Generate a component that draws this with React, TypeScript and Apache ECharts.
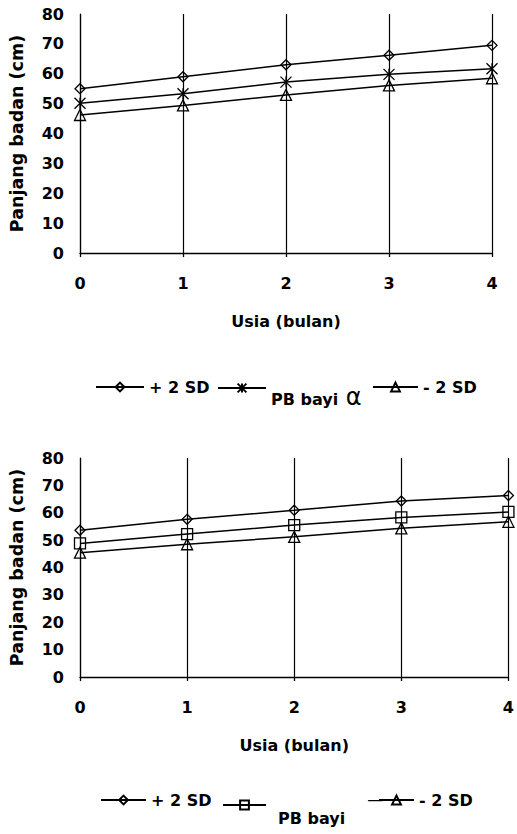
import React, { useEffect, useRef } from "react";
import * as echarts from "echarts";

const ages = [0, 1, 2, 3, 4];
const yTicks = [0, 10, 20, 30, 40, 50, 60, 70, 80];

const chart1Plus2SD = [55.0, 59.0, 63.0, 66.2, 69.5];
const chart1PBBayi = [50.1, 53.3, 57.2, 59.8, 61.7];
const chart1Minus2SD = [46.2, 49.4, 52.9, 56.1, 58.5];

const chart2Plus2SD = [53.6, 57.6, 60.9, 64.3, 66.3];
const chart2PBBayi = [48.8, 52.2, 55.5, 58.3, 60.3];
const chart2Minus2SD = [45.4, 48.5, 51.2, 54.3, 56.7];

const FONT = "DejaVu Sans";
const ASTERISK = "path://M0,0L10,12M10,0L0,12M5,0L5,12";

function pairs(vals: number[]) {
  return ages.map((a, i) => [a, vals[i]]);
}

function makeSeries(name: string, vals: number[], symbol: string, size: number) {
  return {
    type: "line",
    name,
    data: pairs(vals),
    symbol,
    symbolSize: size,
    showSymbol: true,
    clip: false,
    itemStyle: { color: "rgba(0,0,0,0)", borderColor: "#000", borderWidth: 1.3 },
    lineStyle: { color: "#000", width: 1.5 },
    emphasis: { disabled: true },
    z: 3,
  };
}

function buildOption(cfg: any) {
  const textBase = { fontFamily: FONT, fontWeight: "bold", fontSize: 16, color: "#000" };
  const legendBase = {
    orient: "horizontal",
    padding: 0,
    itemHeight: 11,
    itemGap: 0,
    selectedMode: false,
    textStyle: {
      ...textBase,
      rich: {
        p: { ...textBase, padding: [cfg.pbPad, 0, 0, cfg.pbPadLeft] },
        a: { fontFamily: FONT, fontSize: 24, fontWeight: "normal", color: "#000", padding: [17, 0, 0, 2] },
        m: { fontFamily: FONT, fontSize: 16, fontWeight: "normal", color: "#000", padding: [0, 0, 12, 22] },
      },
    },
  };
  return {
    animation: false,
    backgroundColor: "#fff",
    grid: { left: 78, right: cfg.right, top: cfg.top, bottom: cfg.bottom },
    xAxis: {
      type: "value",
      min: 0,
      max: 4,
      interval: 1,
      name: "Usia (bulan)",
      nameLocation: "middle",
      nameGap: 60,
      nameTextStyle: textBase,
      axisLine: { show: true, lineStyle: { color: "#000", width: 1.3 } },
      axisTick: { show: true, length: 4, lineStyle: { color: "#000", width: 1.3 } },
      splitLine: { show: true, lineStyle: { color: "#000", width: 1.2 } },
      axisLabel: { ...textBase, margin: 22, formatter: (v: number) => String(ages[v] ?? v) },
    },
    yAxis: {
      type: "value",
      min: 0,
      max: 80,
      interval: 10,
      name: "Panjang badan (cm)",
      nameLocation: "middle",
      nameGap: 54,
      nameTextStyle: { ...textBase, fontSize: 17.5 },
      axisLine: { show: true, lineStyle: { color: "#000", width: 1.2 } },
      axisTick: { show: false },
      splitLine: { show: false },
      axisLabel: { ...textBase, margin: 16, formatter: (v: number) => (yTicks.includes(v) ? String(v) : "") },
    },
    legend: [
      { ...legendBase, data: ["+ 2 SD"], left: cfg.leg[0], itemWidth: cfg.legW[0], top: cfg.legTop },
      {
        ...legendBase,
        data: ["PB bayi"],
        left: cfg.leg[1],
        itemWidth: cfg.legW[1],
        top: cfg.legTopPB,
        formatter: () => cfg.pbLabel,
      },
      { ...legendBase, data: ["- 2 SD"], left: cfg.leg[2], itemWidth: cfg.legW[2], top: cfg.legTop },
    ],
    series: [
      makeSeries("+ 2 SD", cfg.plus, "diamond", 10),
      makeSeries("PB bayi", cfg.pb, cfg.pbSymbol, 11),
      makeSeries("- 2 SD", cfg.minus, "triangle", 11),
    ],
  };
}

function Chart({ cfg }: { cfg: any }) {
  const ref = useRef<HTMLDivElement>(null);
  useEffect(() => {
    const chart = echarts.init(ref.current!, undefined, { renderer: "svg" });
    chart.setOption(buildOption(cfg) as any);
    return () => chart.dispose();
  }, []);
  return <div ref={ref} style={{ width: 517, height: 417 }} />;
}

const cfg1 = {
  top: 14,
  bottom: 164,
  right: 25,
  plus: chart1Plus2SD,
  pb: chart1PBBayi,
  minus: chart1Minus2SD,
  pbSymbol: ASTERISK,
  pbLabel: "{p|PB bayi} {a|α}",
  pbPad: 22,
  pbPadLeft: 0,
  leg: [95, 217, 372],
  legW: [48, 48, 45],
  legTop: 379,
  legTopPB: 380,
};

const cfg2 = {
  top: 41,
  bottom: 157,
  right: 4,
  plus: chart2Plus2SD,
  pb: chart2PBBayi,
  minus: chart2Minus2SD,
  pbSymbol: "rect",
  pbLabel: "{p|PB bayi}{m|—}",
  pbPad: 26,
  pbPadLeft: 7,
  leg: [100, 222, 378],
  legW: [45, 43, 35],
  legTop: 375,
  legTopPB: 374,
};

export default function App() {
  return (
    <div style={{ position: "absolute", left: 0, top: 0, width: 517, height: 834, background: "#fff" }}>
      <Chart cfg={cfg1} />
      <Chart cfg={cfg2} />
    </div>
  );
}
